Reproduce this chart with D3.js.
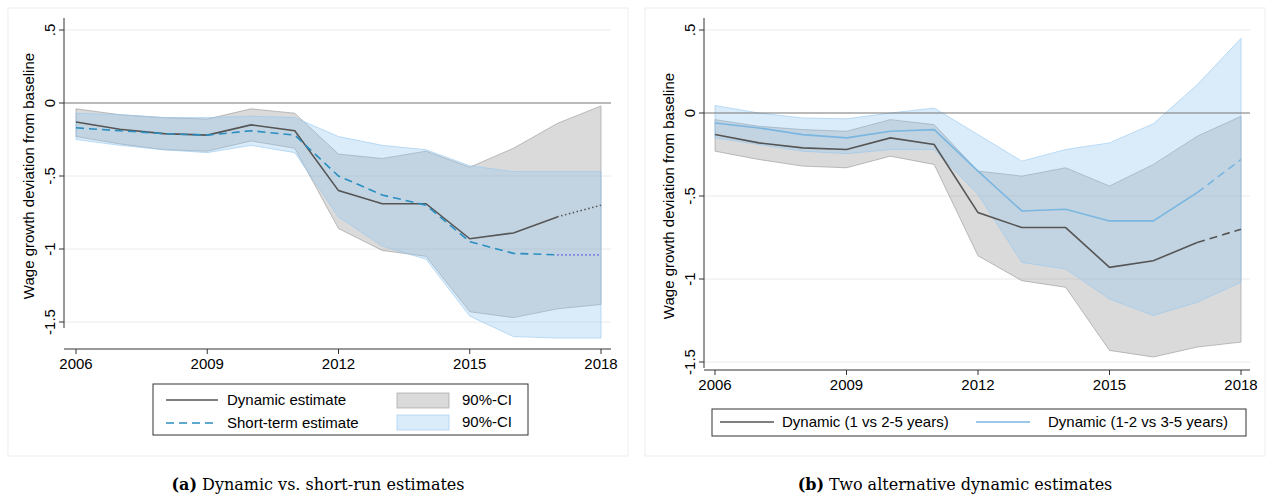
<!DOCTYPE html><html><head><meta charset="utf-8"><script src="https://cdn.jsdelivr.net/npm/d3@7"></script>
<style>body{margin:0;background:#fff}text{font-family:"Liberation Sans",Arial,sans-serif}text.cap{font-family:"DejaVu Serif",serif}</style></head><body>
<svg id="c" width="1268" height="499"></svg>
<script>
const years=[2006,2007,2008,2009,2010,2011,2012,2013,2014,2015,2016,2017,2018];
const dyn=[-0.13,-0.18,-0.21,-0.22,-0.15,-0.19,-0.60,-0.69,-0.69,-0.93,-0.89,-0.78,-0.70];
const dynHi=[-0.04,-0.08,-0.10,-0.11,-0.04,-0.07,-0.35,-0.38,-0.33,-0.44,-0.31,-0.14,-0.02];
const dynLo=[-0.23,-0.28,-0.32,-0.33,-0.26,-0.31,-0.86,-1.01,-1.05,-1.43,-1.47,-1.41,-1.38];
const st=[-0.17,-0.19,-0.21,-0.22,-0.19,-0.22,-0.50,-0.63,-0.70,-0.95,-1.03,-1.04,-1.04];
const stHi=[-0.07,-0.08,-0.10,-0.10,-0.09,-0.10,-0.23,-0.29,-0.32,-0.43,-0.47,-0.47,-0.47];
const stLo=[-0.25,-0.29,-0.32,-0.34,-0.29,-0.34,-0.78,-0.98,-1.07,-1.46,-1.60,-1.61,-1.61];
const alt=[-0.06,-0.09,-0.13,-0.15,-0.11,-0.10,-0.35,-0.59,-0.58,-0.65,-0.65,-0.48,-0.28];
const altHi=[0.045,0.0,-0.03,-0.035,0.0,0.03,-0.13,-0.29,-0.22,-0.18,-0.065,0.17,0.45];
const altLo=[-0.15,-0.19,-0.23,-0.245,-0.22,-0.22,-0.49,-0.90,-0.94,-1.12,-1.22,-1.14,-1.02];
const yTicks=[0.5,0,-0.5,-1,-1.5], yLabels=[".5","0","-.5","-1","-1.5"], xTicks=[2006,2009,2012,2015,2018];
const svg=d3.select("#c");
const GREY="rgba(150,150,150,0.35)", BLUE="rgba(150,200,240,0.35)";
function panel(o){
  const g=svg.append("g");
  g.append("rect").attr("x",o.fx).attr("y",8).attr("width",620).attr("height",448).attr("fill","none").attr("stroke","#eee");
  const x=d3.scaleLinear().domain([2006,2018]).range([o.x0,o.x1]);
  const y=d3.scaleLinear().domain([0.5,-1.5]).range([o.yTop,o.yBot]);
  yTicks.forEach(t=>{ if(t!==0) g.append("line").attr("x1",o.ax).attr("x2",o.pr).attr("y1",y(t)).attr("y2",y(t)).attr("stroke","#eaeaea");});
  const area=(lo,hi,c)=>g.append("path").datum(years.map((d,i)=>[d,lo[i],hi[i]])).attr("fill",c)
    .attr("stroke",c.replace("0.35","0.6")).attr("stroke-width",1).attr("d",d3.area().x(d=>x(d[0])).y0(d=>y(d[1])).y1(d=>y(d[2])));
  o.areas.forEach(a=>area(...a));
  g.append("line").attr("x1",o.ax).attr("x2",o.pr).attr("y1",y(0)).attr("y2",y(0)).attr("stroke","#777").attr("stroke-width",1.2);
  const line=d3.line().x(d=>x(d[0])).y(d=>y(d[1]));
  o.lines.forEach(l=>{
    const pts=years.map((d,i)=>[d,l.v[i]]);
    g.append("path").datum(pts.slice(0,12)).attr("fill","none").attr("stroke",l.c).attr("stroke-width",1.6).attr("stroke-dasharray",l.dash||null).attr("d",line);
    g.append("path").datum(pts.slice(11)).attr("fill","none").attr("stroke",l.c2||l.c).attr("stroke-width",1.6).attr("stroke-dasharray",l.tail).attr("d",line);
  });
  g.append("line").attr("x1",o.ax).attr("x2",o.ax).attr("y1",18).attr("y2",o.yBot+6).attr("stroke","#333");
  g.append("line").attr("x1",o.ax).attr("x2",o.pr).attr("y1",o.bot).attr("y2",o.bot).attr("stroke","#333");
  yTicks.forEach((t,i)=>{
    g.append("line").attr("x1",o.ax-5).attr("x2",o.ax).attr("y1",y(t)).attr("y2",y(t)).attr("stroke","#333");
    g.append("text").attr("transform",`translate(${o.ax-9},${y(t)}) rotate(-90)`).attr("text-anchor","middle").attr("font-size",15).text(yLabels[i]);
  });
  xTicks.forEach(t=>{
    g.append("line").attr("x1",x(t)).attr("x2",x(t)).attr("y1",o.bot).attr("y2",o.bot+5).attr("stroke","#333");
    g.append("text").attr("x",x(t)).attr("y",o.bot+20).attr("text-anchor","middle").attr("font-size",15).text(t);
  });
  g.append("text").attr("transform",`translate(${o.ax-30},${(o.yTop+o.yBot)/2}) rotate(-90)`).attr("text-anchor","middle").attr("font-size",15).text("Wage growth deviation from baseline");
  g.append("text").attr("class","cap").attr("x",o.fx+310).attr("y",490).attr("text-anchor","middle").attr("font-size",16)
    .html(`<tspan font-weight="bold">${o.cap[0]}</tspan> ${o.cap[1]}`);
  return g;
}
const g1=panel({fx:8,x0:76,x1:601,yTop:30,yBot:322,ax:64,pr:611,bot:349,
  areas:[[dynLo,dynHi,GREY],[stLo,stHi,BLUE]],
  lines:[{v:dyn,c:"#555",tail:"1.5,2.5"},{v:st,c:"#2a8fc0",dash:"8,5",c2:"#6f6fe0",tail:"1.5,2.5"}],cap:["(a)","Dynamic vs. short-run estimates"]});
const g2=panel({fx:645,x0:715,x1:1241,yTop:30,yBot:362,ax:704,pr:1250,bot:370,
  areas:[[dynLo,dynHi,GREY],[altLo,altHi,BLUE]],
  lines:[{v:dyn,c:"#555",tail:"8,5"},{v:alt,c:"#7ab6e0",tail:"8,5"}],cap:["(b)","Two alternative dynamic estimates"]});
g1.append("rect").attr("x",153).attr("y",384).attr("width",375).attr("height",51).attr("fill","#fff").attr("stroke","#333");
const la=[["Dynamic estimate","#555",null,166,400],["Short-term estimate","#2a8fc0","8,5",166,423]];
la.forEach(l=>{g1.append("line").attr("x1",l[3]).attr("x2",l[3]+52).attr("y1",l[4]).attr("y2",l[4]).attr("stroke",l[1]).attr("stroke-width",1.6).attr("stroke-dasharray",l[2]);
 g1.append("text").attr("x",227).attr("y",l[4]+5).attr("font-size",15).text(l[0]);});
[[GREY,393],[BLUE,415]].forEach(r=>{g1.append("rect").attr("x",397).attr("y",r[1]).attr("width",52).attr("height",15).attr("fill",r[0]).attr("stroke",r[0].replace("0.35","0.6"));
 g1.append("text").attr("x",462).attr("y",r[1]+12).attr("font-size",15).text("90%-CI");});
g2.append("rect").attr("x",712).attr("y",409).attr("width",534).attr("height",27).attr("fill","#fff").attr("stroke","#333");
[["Dynamic (1 vs 2-5 years)","#555",720,782],["Dynamic (1-2 vs 3-5 years)","#7ab6e0",976,1048]].forEach(l=>{
 g2.append("line").attr("x1",l[2]).attr("x2",l[2]+54).attr("y1",422).attr("y2",422).attr("stroke",l[1]).attr("stroke-width",1.6);
 g2.append("text").attr("x",l[3]).attr("y",427).attr("font-size",15).text(l[0]);});
</script></body></html>
